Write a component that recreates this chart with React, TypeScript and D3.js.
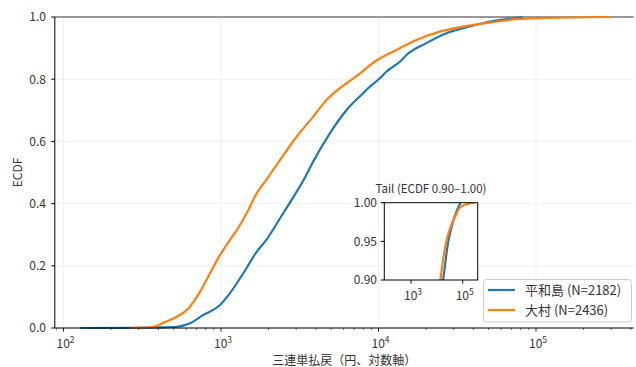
import React, { useEffect, useRef } from 'react';
import * as d3 from 'd3';

// ECDF (payout in yen, cumulative share)
const heiwajimaPayout = [128, 300, 420, 524, 636, 772, 986, 1140, 1385, 1684, 1950, 2366, 2872, 3420, 3846, 4910, 6270, 7980, 8590, 10200, 11200, 13650, 15060, 20100, 27000, 34400, 46000, 64800, 82600];
const heiwajimaEcdf = [0, 0.0005, 0.002, 0.004, 0.015, 0.042, 0.074, 0.112, 0.176, 0.245, 0.285, 0.352, 0.42, 0.485, 0.535, 0.626, 0.701, 0.755, 0.771, 0.803, 0.824, 0.856, 0.878, 0.916, 0.948, 0.964, 0.98, 0.993, 1.0];

const omuraPayout = [265, 372, 431, 524, 621, 736, 852, 986, 1140, 1259, 1456, 1684, 1950, 2366, 3020, 3846, 4677, 5686, 7250, 9710, 13000, 17400, 24500, 34400, 50800, 75000, 116000, 293000];
const omuraEcdf = [0, 0.004, 0.017, 0.036, 0.063, 0.117, 0.176, 0.235, 0.283, 0.315, 0.369, 0.433, 0.478, 0.54, 0.615, 0.679, 0.733, 0.771, 0.81, 0.86, 0.894, 0.926, 0.953, 0.969, 0.982, 0.993, 0.997, 1.0];

const seriesNames = ['平和島 (N=2182)', '大村 (N=2436)'];
const seriesColors = ['#1f77b4', '#ff7f0e'];
const yTicks = [0, 0.2, 0.4, 0.6, 0.8, 1.0];
const decades = [2, 3, 4, 5];
const insetYTicks = [0.9, 0.95, 1.0];
const insetDecades = [3, 5];

const W = 636;
const H = 367;
const FONT = '"Noto Sans CJK JP", "Noto Sans", sans-serif';
const TXT = '#333';

const App = () => {
    const ref = useRef<SVGSVGElement>(null);

    useEffect(() => {
        const svg = d3.select(ref.current);
        svg.selectAll('*').remove();

        const x = d3.scaleLog().domain([88, 416000]).range([54.8, 633.5]);
        const y = d3.scaleLinear().domain([0, 1]).range([328, 17]);

        const series = [
            heiwajimaPayout.map((v, i) => [v, heiwajimaEcdf[i]]),
            omuraPayout.map((v, i) => [v, omuraEcdf[i]]),
        ];

        // grid
        const grid = svg.append('g').attr('stroke', '#ebebeb').attr('stroke-width', 0.8);
        decades.forEach(d => {
            grid.append('line').attr('x1', x(10 ** d)).attr('x2', x(10 ** d)).attr('y1', y(0)).attr('y2', y(1));
        });
        yTicks.forEach(t => {
            grid.append('line').attr('x1', x.range()[0]).attr('x2', x.range()[1]).attr('y1', y(t)).attr('y2', y(t));
        });

        // reference line at 1.0
        svg.append('line')
            .attr('x1', x.range()[0]).attr('x2', x.range()[1])
            .attr('y1', y(1)).attr('y2', y(1))
            .attr('stroke', '#777').attr('stroke-width', 1.5);

        const line = d3.line<number[]>().x(d => x(d[0])).y(d => y(d[1])).curve(d3.curveMonotoneX);
        series.forEach((s, i) => {
            svg.append('path').attr('d', line(s)).attr('fill', 'none')
                .attr('stroke', seriesColors[i]).attr('stroke-width', 2.2).attr('stroke-linejoin', 'round');
        });

        // axes (left + bottom only)
        const ax = svg.append('g').attr('font-family', FONT).attr('font-size', 12).attr('fill', TXT);
        ax.append('line').attr('x1', x.range()[0]).attr('x2', x.range()[0]).attr('y1', y(0)).attr('y2', y(1)).attr('stroke', '#000').attr('stroke-width', 1);
        ax.append('line').attr('x1', x.range()[0]).attr('x2', x.range()[1]).attr('y1', y(0)).attr('y2', y(0)).attr('stroke', '#000').attr('stroke-width', 1);

        yTicks.forEach(t => {
            ax.append('line').attr('x1', x.range()[0] - 3.5).attr('x2', x.range()[0]).attr('y1', y(t)).attr('y2', y(t)).attr('stroke', '#000');
            ax.append('text').attr('x', 46).attr('y', y(t)).attr('dy', '0.36em')
                .attr('text-anchor', 'end').text(t.toFixed(1));
        });

        const [lo, hi] = x.domain();
        for (let d = 1; d <= 6; d++) {
            for (let m = 1; m < 10; m++) {
                const v = m * 10 ** d;
                if (v < lo || v > hi) continue;
                ax.append('line').attr('x1', x(v)).attr('x2', x(v)).attr('y1', y(0))
                    .attr('y2', y(0) + (m === 1 ? 3.5 : 2)).attr('stroke', '#000').attr('stroke-width', m === 1 ? 0.9 : 0.6);
            }
        }
        decades.forEach(d => {
            const t = ax.append('text').attr('x', x(10 ** d) + 2).attr('y', 348).attr('text-anchor', 'middle');
            t.append('tspan').text('10');
            t.append('tspan').attr('font-size', 8.5).attr('dy', -5).text(String(d));
        });

        ax.append('text').attr('x', (x.range()[0] + x.range()[1]) / 2).attr('y', 364.5)
            .attr('text-anchor', 'middle').text('三連単払戻（円、対数軸）');
        ax.append('text').attr('transform', `translate(21.5,${(y(0) + y(1)) / 2}) rotate(-90)`)
            .attr('text-anchor', 'middle').text('ECDF');

        // inset: tail
        const ix = d3.scaleLog().domain([92, 380000]).range([384.3, 477.7]);
        const iy = d3.scaleLinear().domain([0.9, 1.0]).range([280, 202.7]);
        const inset = svg.append('g');
        inset.append('rect').attr('x', 384.3).attr('y', 202.7).attr('width', 93.4).attr('height', 77.3).attr('fill', '#fff');
        svg.append('clipPath').attr('id', 'inset-clip').append('rect')
            .attr('x', 384.3).attr('y', 202.7).attr('width', 93.4).attr('height', 77.3);
        const iline = d3.line<number[]>().x(d => ix(d[0])).y(d => iy(d[1])).curve(d3.curveMonotoneX);
        series.forEach((s, i) => {
            inset.append('path').attr('d', iline(s)).attr('fill', 'none').attr('clip-path', 'url(#inset-clip)')
                .attr('stroke', seriesColors[i]).attr('stroke-width', 2.2);
        });
        inset.append('rect').attr('x', 384.3).attr('y', 202.7).attr('width', 93.4).attr('height', 77.3)
            .attr('fill', 'none').attr('stroke', '#000').attr('stroke-width', 1);
        const ig = inset.append('g').attr('font-family', FONT).attr('font-size', 12).attr('fill', TXT);
        insetYTicks.forEach(t => {
            ig.append('line').attr('x1', 380.8).attr('x2', 384.3).attr('y1', iy(t)).attr('y2', iy(t)).attr('stroke', '#000');
            ig.append('text').attr('x', 377).attr('y', iy(t)).attr('dy', '0.36em').attr('text-anchor', 'end').text(t.toFixed(2));
        });
        insetDecades.forEach(d => {
            ig.append('line').attr('x1', ix(10 ** d)).attr('x2', ix(10 ** d)).attr('y1', 280).attr('y2', 283.5).attr('stroke', '#000');
            const t = ig.append('text').attr('x', ix(10 ** d) + 2).attr('y', 300).attr('text-anchor', 'middle');
            t.append('tspan').text('10');
            t.append('tspan').attr('font-size', 8.5).attr('dy', -5).text(String(d));
        });
        ig.append('text').attr('x', 431).attr('y', 193).attr('text-anchor', 'middle').attr('font-size', 11.5)
            .text('Tail (ECDF 0.90–1.00)');

        // legend
        const lg = svg.append('g').attr('font-family', FONT).attr('font-size', 13).attr('fill', TXT);
        lg.append('rect').attr('x', 483.5).attr('y', 279.5).attr('width', 148).attr('height', 42.5).attr('rx', 3)
            .attr('fill', '#fff').attr('fill-opacity', 0.85).attr('stroke', '#ccc');
        seriesNames.forEach((name, i) => {
            const ly = 290 + i * 20;
            lg.append('line').attr('x1', 488).attr('x2', 515).attr('y1', ly).attr('y2', ly)
                .attr('stroke', seriesColors[i]).attr('stroke-width', 2.2);
            lg.append('text').attr('x', 525).attr('y', ly).attr('dy', '0.36em').text(name);
        });
    }, []);

    return (
        <svg ref={ref} width={W} height={H} style={{ position: 'absolute', left: 0, top: 0, background: '#fff' }} />
    );
};

export default App;
